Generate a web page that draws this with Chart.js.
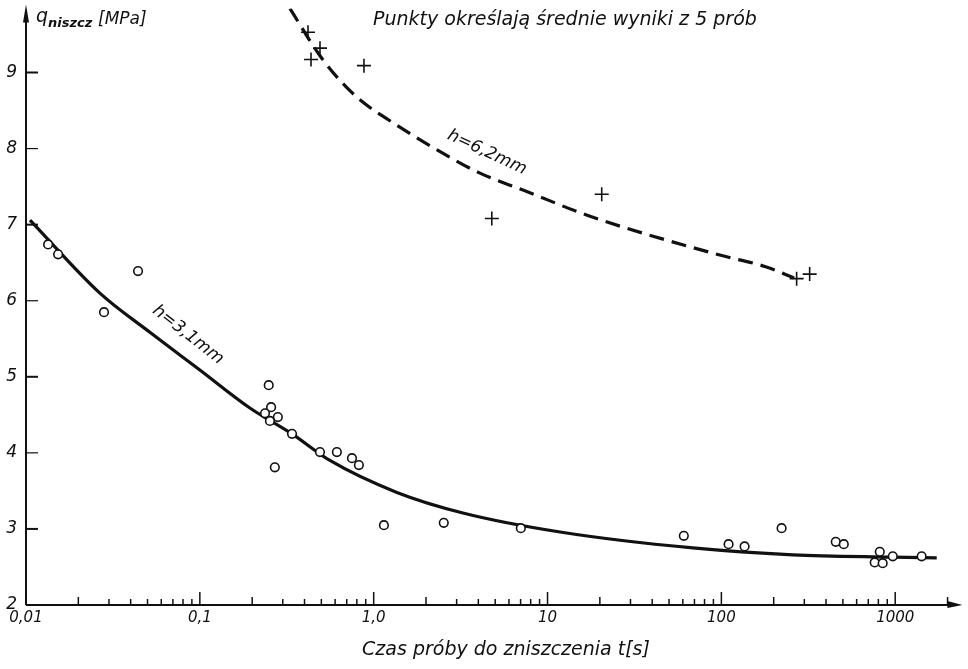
<!DOCTYPE html>
<html>
<head>
<meta charset="utf-8">
<script src="https://cdn.jsdelivr.net/npm/chart.js@4.4.1/dist/chart.umd.min.js"></script>
<style>
  html, body { margin: 0; padding: 0; background: #fff; }
  #wrap { width: 968px; height: 669px; }
</style>
</head>
<body>
<div id="wrap"><canvas id="chart" width="968" height="669"></canvas></div>
<script>
// Data (time to failure t [s], q_niszcz [MPa])

// h = 3,1 mm : measured points (circles)
const thinTimes = [0.0134, 0.0153, 0.0281, 0.0441, 0.249, 0.257, 0.237, 0.281, 0.253, 0.339,
    0.270, 0.491, 0.614, 0.750, 0.822, 1.145, 2.53, 7.02, 60.8, 110, 136, 222, 455, 506,
    815, 762, 847, 968, 1419];
const thinStress = [6.74, 6.61, 5.85, 6.39, 4.89, 4.60, 4.52, 4.47, 4.42, 4.25,
    3.81, 4.01, 4.01, 3.93, 3.84, 3.05, 3.08, 3.01, 2.91, 2.80, 2.77, 3.01, 2.83, 2.80,
    2.70, 2.56, 2.55, 2.64, 2.64];

// h = 3,1 mm : fitted curve (solid)
const thinCurveTimes = [0.01054, 0.0266, 0.0516, 0.1, 0.194, 0.339, 0.560, 1.36, 3.26, 11.8, 68.5, 258, 968, 1733];
const thinCurveStress = [7.06, 6.10, 5.585, 5.09, 4.59, 4.25, 3.90, 3.48, 3.21, 2.96, 2.75, 2.66, 2.63, 2.62];

// h = 6,2 mm : measured points (crosses)
const thickTimes = [0.419, 0.491, 0.436, 0.879, 4.78, 20.5, 271, 322];
const thickStress = [9.53, 9.32, 9.17, 9.09, 7.08, 7.40, 6.29, 6.35];

// h = 6,2 mm : fitted curve (dashed)
const thickCurveTimes = [0.330, 0.491, 0.701, 0.951, 1.175, 2.10, 3.97, 7.91, 17.06, 97.9, 177.8, 262];
const thickCurveStress = [9.84, 9.22, 8.80, 8.54, 8.40, 8.04, 7.69, 7.42, 7.12, 6.60, 6.45, 6.30];

// axes
const xMajor = [0.01, 0.1, 1, 10, 100, 1000];
const xTickLabels = ['0,01', '0,1', '1,0', '10', '100', '1000'];
const yTicks = [2, 3, 4, 5, 6, 7, 8, 9];

const pts = (xs, ys) => xs.map((x, i) => ({ x: x, y: ys[i] }));

const FONT = "'DejaVu Sans', sans-serif";
const INK = '#111';

// Axis arrows, inner tick marks, titles and curve labels
const decorPlugin = {
    id: 'decor',
    afterDraw(chart) {
        const ctx = chart.ctx;
        const xs = chart.scales.x;
        const ys = chart.scales.y;
        const a = chart.chartArea;
        ctx.save();
        ctx.strokeStyle = INK;
        ctx.fillStyle = INK;

        // axis lines
        ctx.lineWidth = 2;
        ctx.beginPath();
        ctx.moveTo(a.left, a.bottom);
        ctx.lineTo(a.right - 4, a.bottom);
        ctx.moveTo(a.left, a.bottom);
        ctx.lineTo(a.left, a.top + 10);
        ctx.stroke();

        // arrow heads
        ctx.beginPath();
        ctx.moveTo(a.right + 3, a.bottom);
        ctx.lineTo(a.right - 12, a.bottom - 4);
        ctx.lineTo(a.right - 12, a.bottom + 3);
        ctx.closePath();
        ctx.fill();
        ctx.beginPath();
        ctx.moveTo(a.left, a.top - 4);
        ctx.lineTo(a.left - 3, a.top + 14);
        ctx.lineTo(a.left + 3, a.top + 14);
        ctx.closePath();
        ctx.fill();

        // x ticks drawn upwards inside the plot (log decades + 2..9)
        ctx.lineWidth = 1.5;
        for (let e = -2; e <= 3; e++) {
            for (let m = 1; m <= 9; m++) {
                const v = m * Math.pow(10, e);
                if (v < xs.min || v > xs.max) continue;
                const px = xs.getPixelForValue(v);
                const len = m === 1 ? 13 : (m === 2 ? 8 : 6);
                ctx.beginPath();
                ctx.moveTo(px, a.bottom);
                ctx.lineTo(px, a.bottom - len);
                ctx.stroke();
            }
        }
        // y ticks pointing right
        yTicks.forEach(v => {
            if (v === 2) return;
            const py = ys.getPixelForValue(v);
            ctx.lineWidth = (v % 2 === 1) ? 2 : 1.2;
            ctx.beginPath();
            ctx.moveTo(a.left, py);
            ctx.lineTo(a.left + 12, py);
            ctx.stroke();
        });

        // y axis title: q_niszcz [MPa]
        ctx.textBaseline = 'alphabetic';
        ctx.textAlign = 'left';
        ctx.font = 'italic 19px ' + FONT;
        ctx.fillText('q', a.left + 10, 22);
        ctx.font = 'italic bold 13px ' + FONT;
        ctx.fillText('niszcz', a.left + 22, 27);
        ctx.font = 'italic 17px ' + FONT;
        ctx.fillText('[MPa]', a.left + 72, 24);

        // note at the top
        ctx.font = 'italic 19px ' + FONT;
        ctx.fillText('Punkty określają średnie wyniki z 5 prób', 373, 25);

        // x axis title
        ctx.textAlign = 'center';
        ctx.fillText('Czas próby do zniszczenia t[s]', 506, 655);

        // curve labels
        ctx.font = 'italic 17px ' + FONT;
        const label = (text, xv, yv, deg) => {
            ctx.save();
            ctx.translate(xs.getPixelForValue(xv), ys.getPixelForValue(yv));
            ctx.rotate(deg * Math.PI / 180);
            ctx.textAlign = 'center';
            ctx.textBaseline = 'middle';
            ctx.fillText(text, 0, 0);
            ctx.restore();
        };
        label('h=3,1mm', 0.0855, 5.55, 38);
        label('h=6,2mm', 4.48, 7.95, 25);

        ctx.restore();
    }
};

new Chart(document.getElementById('chart'), {
    type: 'scatter',
    data: {
        datasets: [
            {
                label: 'h=3,1mm (punkty)',
                data: pts(thinTimes, thinStress),
                pointStyle: 'circle',
                pointRadius: 4.3,
                pointBorderWidth: 1.6,
                pointBorderColor: INK,
                pointBackgroundColor: '#fff',
                showLine: false,
                order: 0
            },
            {
                label: 'h=6,2mm (punkty)',
                data: pts(thickTimes, thickStress),
                pointStyle: 'cross',
                pointRadius: 7,
                pointBorderWidth: 1.6,
                pointBorderColor: INK,
                showLine: false,
                order: 0
            },
            {
                label: 'h=3,1mm',
                data: pts(thinCurveTimes, thinCurveStress),
                showLine: true,
                borderColor: INK,
                borderWidth: 3.2,
                pointRadius: 0,
                cubicInterpolationMode: 'monotone',
                fill: false,
                order: 1
            },
            {
                label: 'h=6,2mm',
                data: pts(thickCurveTimes, thickCurveStress),
                showLine: true,
                borderColor: INK,
                borderWidth: 3.2,
                borderDash: [15, 8],
                pointRadius: 0,
                cubicInterpolationMode: 'monotone',
                fill: false,
                order: 1
            }
        ]
    },
    options: {
        responsive: false,
        animation: false,
        devicePixelRatio: 1,
        layout: { padding: { top: 8, right: 8, left: 0, bottom: 0 } },
        plugins: {
            legend: { display: false },
            tooltip: { enabled: false }
        },
        scales: {
            x: {
                type: 'logarithmic',
                min: 0.01,
                max: 2340,
                grid: { display: false, drawTicks: false },
                border: { display: false },
                afterBuildTicks: s => { s.ticks = xMajor.map(v => ({ value: v, major: true })); },
                afterFit: s => { s.height = 64; s.paddingLeft = 0; s.paddingRight = 0; },
                ticks: {
                    autoSkip: false,
                    maxRotation: 0,
                    padding: 4,
                    color: INK,
                    font: { family: FONT, size: 15, style: 'italic' },
                    callback: (v, i) => xTickLabels[i]
                }
            },
            y: {
                type: 'linear',
                min: 2,
                max: 9.84,
                grid: { display: false, drawTicks: false },
                border: { display: false },
                afterBuildTicks: s => { s.ticks = yTicks.map(v => ({ value: v })); },
                afterFit: s => { s.width = 26; s.paddingTop = 0; s.paddingBottom = 0; },
                ticks: {
                    padding: 9,
                    color: INK,
                    font: { family: FONT, size: 17, style: 'italic' },
                    callback: v => String(v)
                }
            }
        }
    },
    plugins: [decorPlugin]
});
</script>
</body>
</html>
